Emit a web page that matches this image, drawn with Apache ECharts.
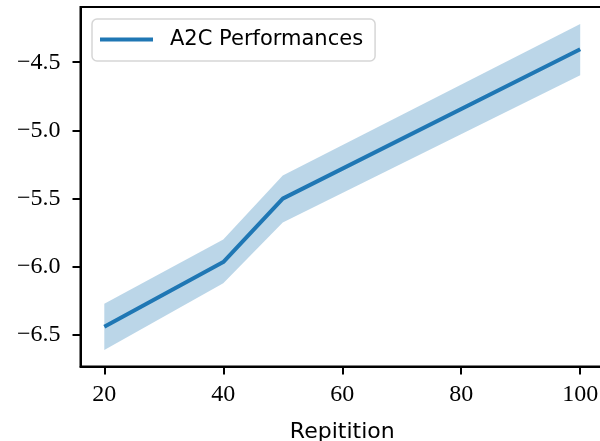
<!DOCTYPE html>
<html>
<head>
<meta charset="utf-8">
<script src="https://cdn.jsdelivr.net/npm/echarts@6/dist/echarts.min.js"></script>
<style>
  html, body { margin: 0; padding: 0; background: #fff; overflow: hidden; }
  #chart { width: 600px; height: 441px; }
</style>
</head>
<body>
<div id="chart"></div>
<script>
// Repetition counts and A2C performance (mean with spread band)
const repetitions = [20, 40, 50, 100];
const meanPerf = [-6.44, -5.965, -5.50, -4.405];
const upperPerf = [-6.27, -5.80, -5.33, -4.22];
const lowerPerf = [-6.61, -6.12, -5.675, -4.595];

const xTicks = [20, 40, 60, 80, 100];
const yTicks = [-6.5, -6.0, -5.5, -5.0, -4.5];

const seriesName = 'A2C Performances';
const lineColor = '#1f77b4';
const bandColor = 'rgba(31,119,180,0.3)';

const serif = '"Liberation Serif", "DejaVu Serif", serif';
const sans = '"DejaVu Sans", sans-serif';

const fmt = v => (v < 0 ? '\u2212' : '') + Math.abs(v).toFixed(1);

const chart = echarts.init(document.getElementById('chart'), null, { renderer: 'canvas' });

chart.setOption({
  animation: false,
  backgroundColor: '#fff',
  grid: {
    left: 80.5, top: 7, width: 523.5, bottom: 74.5,
    show: true, borderColor: '#000', borderWidth: 2,
    containLabel: false,
    outerBoundsMode: 'none'
  },
  legend: {
    data: [{ name: seriesName, icon: 'rect' }],
    left: 92, top: 19,
    itemWidth: 53, itemHeight: 4,
    padding: [10, 12, 11, 8],
    borderColor: '#d6d6d6', borderWidth: 1.5, borderRadius: 5,
    backgroundColor: 'rgba(255,255,255,0.8)',
    textStyle: { fontFamily: sans, fontSize: 21, color: '#000', padding: [0, 0, 0, 12] }
  },
  xAxis: {
    type: 'value', min: 16, max: 104,
    name: 'Repitition', nameLocation: 'middle', nameGap: 55,
    nameTextStyle: { fontFamily: sans, fontSize: 22, color: '#000' },
    axisLine: { show: true, lineStyle: { color: '#000', width: 2 } },
    axisTick: { show: true, length: 8, lineStyle: { color: '#000', width: 2 }, customValues: xTicks },
    axisLabel: { fontFamily: serif, fontSize: 24, color: '#000', margin: 16, customValues: xTicks, formatter: v => String(v) },
    splitLine: { show: false }
  },
  yAxis: {
    type: 'value', min: -6.731, max: -4.095,
    axisLine: { show: true, lineStyle: { color: '#000', width: 2 } },
    axisTick: { show: true, length: 8, lineStyle: { color: '#000', width: 2 }, customValues: yTicks },
    axisLabel: { fontFamily: serif, fontSize: 24, color: '#000', margin: 20, customValues: yTicks, formatter: fmt },
    splitLine: { show: false }
  },
  series: [
    {
      // shaded spread between lower and upper bounds
      type: 'custom',
      name: 'band',
      silent: true,
      z: 1,
      data: repetitions.map((x, i) => [x, lowerPerf[i], upperPerf[i]]),
      renderItem: function (params, api) {
        if (params.dataIndex !== 0) return null;
        const top = repetitions.map((x, i) => api.coord([x, upperPerf[i]]));
        const bottom = repetitions.map((x, i) => api.coord([x, lowerPerf[i]])).reverse();
        return {
          type: 'polygon',
          shape: { points: top.concat(bottom) },
          style: { fill: bandColor, stroke: null }
        };
      }
    },
    {
      type: 'line',
      name: seriesName,
      z: 3,
      data: repetitions.map((x, i) => [x, meanPerf[i]]),
      showSymbol: false,
      color: lineColor,
      lineStyle: { color: lineColor, width: 4 },
      itemStyle: { color: lineColor }
    }
  ]
});
</script>
</body>
</html>
